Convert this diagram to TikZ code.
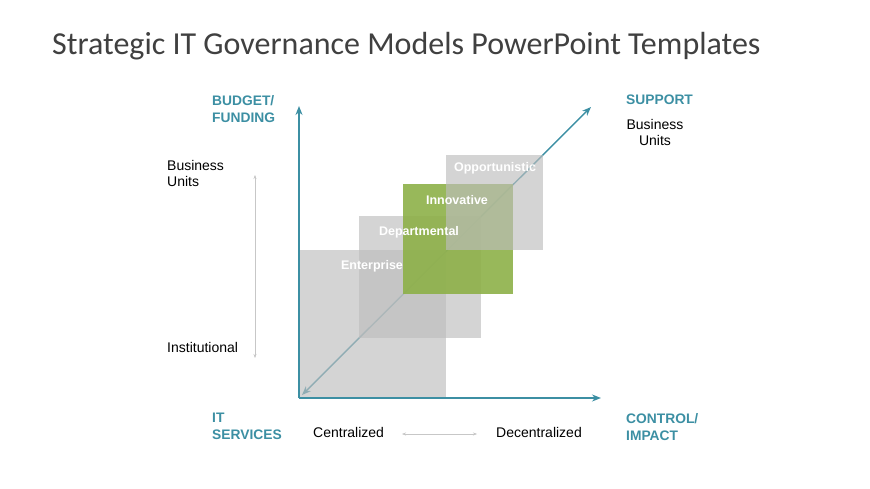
\documentclass[tikz,border=0pt]{standalone}
\usepackage{fontspec}
\setmainfont{Liberation Sans}
\newfontfamily\titlefont{Carlito}
\usetikzlibrary{arrows.meta}
\definecolor{axisteal}{HTML}{3C8FA3}
\definecolor{boxgray}{HTML}{BDBDBD}
\definecolor{boxgreen}{HTML}{8DB048}

\begin{document}
\begin{tikzpicture}[
    x=1pt, y=-1pt,
    axis/.style={draw=axisteal, line width=1.6pt, -{Stealth[length=9pt,width=7pt]}},
    lbl/.style={font=\fontsize{13.8}{17}\selectfont\bfseries, text=axisteal, align=left, anchor=north west, inner sep=0pt},
    plain/.style={font=\fontsize{14}{16.5}\selectfont, align=left, anchor=north west, inner sep=0pt},
    hint/.style={draw=black!22, thin, {Stealth[length=4pt]}-{Stealth[length=4pt]}},
    sq/.style={fill=boxgray, fill opacity=0.65},
    sqtext/.style={text=white, font=\fontsize{12.5}{14}\selectfont\bfseries, inner sep=0pt}
]
\useasboundingbox (0,0) rectangle (870,489);

% Title
\node[anchor=west, inner sep=0pt, font=\titlefont\fontsize{32}{36}\selectfont, text=black!75] (title) at (52,46) {Strategic IT Governance Models PowerPoint Templates};

% Axes
\coordinate (o) at (299,398);
\coordinate (ytop) at (299,106);
\coordinate (xend) at (601,398);
\coordinate (dlo) at (302,395);
\coordinate (dhi) at (591,107);
\draw[axis, line width=1.4pt, {Stealth[length=9pt,width=7pt]}-{Stealth[length=9pt,width=7pt]}] (dlo) -- (dhi);

% Squares
\fill[sq] (300,250) rectangle (446,398);
\fill[sq] (359,216) rectangle (481,338);
\fill[boxgreen, fill opacity=0.9] (403,184) rectangle (513,294);
\fill[sq] (446,155) rectangle (543,250);
\node[sqtext] (ent) at (372,266) {Enterprise};
\node[sqtext] (dep) at (419,232) {Departmental};
\node[sqtext] (inn) at (457,200) {Innovative};
\node[sqtext] (opp) at (495,168) {Opportunistic};

\draw[axis] (o) -- (ytop);
\draw[axis] (o) -- (xend);

% Axis labels
\node[lbl] (budget) at (212,95) {BUDGET/\\FUNDING};
\node[lbl] (support) at (626,95) {SUPPORT};
\node[lbl] (it) at (212,413) {IT\\SERVICES};
\node[lbl] (control) at (626,413) {CONTROL/\\IMPACT};
\node[plain, align=center, anchor=north] (bu2) at (655,119) {Business\\Units};
\node[plain] (bu1) at (167,160) {Business\\Units};
\node[plain] (inst) at (167,342) {Institutional};
\node[plain] (cent) at (313,427) {Centralized};
\node[plain] (dec) at (496,427) {Decentralized};

% Hint arrows
\coordinate (va) at (255,175);
\coordinate (vb) at (255,358);
\coordinate (ha) at (402,434);
\coordinate (hb) at (477,434);
\draw[hint] (va) -- (vb);
\draw[hint] (ha) -- (hb);
\end{tikzpicture}
\end{document}
